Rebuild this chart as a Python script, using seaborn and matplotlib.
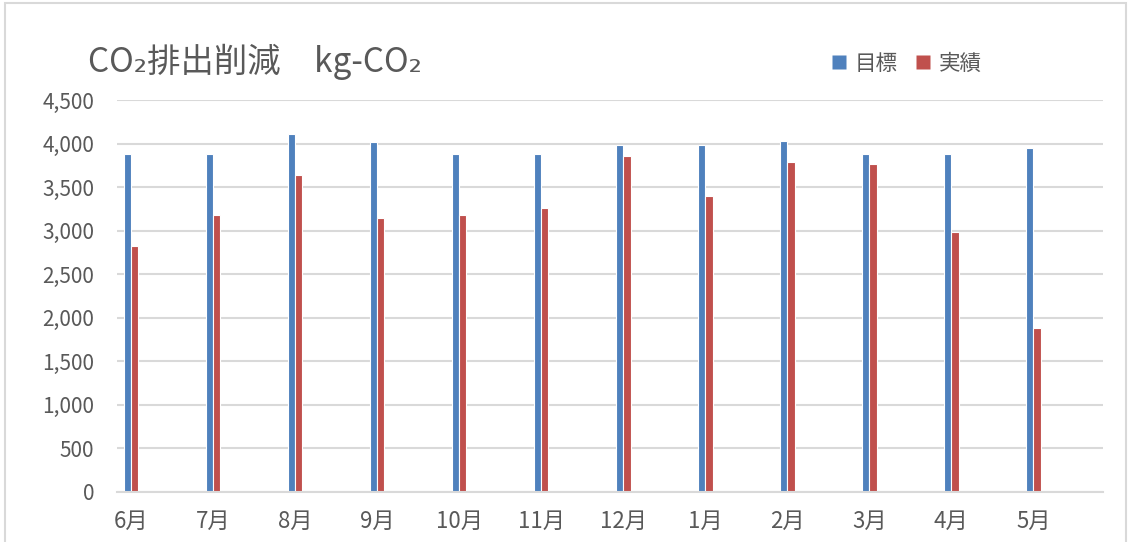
import matplotlib
matplotlib.use("Agg")
import matplotlib.pyplot as plt
from matplotlib.lines import Line2D
from matplotlib.patches import Rectangle
from matplotlib.ticker import FuncFormatter, MultipleLocator
import seaborn as sns
import pandas as pd

# Monthly CO2 reduction (kg-CO2): target vs. actual
months = ["6月", "7月", "8月", "9月", "10月", "11月", "12月", "1月", "2月", "3月", "4月", "5月"]
target = [3880, 3880, 4110, 4020, 3880, 3880, 3980, 3980, 4030, 3880, 3880, 3950]
actual = [2820, 3180, 3640, 3150, 3180, 3260, 3860, 3400, 3790, 3770, 2980, 1880]
series_names = ["目標", "実績"]
colors = ["#4F81BD", "#C0504D"]

df = pd.DataFrame({
    "month": months * 2,
    "value": target + actual,
    "series": [series_names[0]] * len(months) + [series_names[1]] * len(months),
})

sns.set_theme(style="white")
plt.rcParams["font.family"] = ["Noto Sans CJK JP", "DejaVu Sans"]

text_color = "#595959"
grid_color = "#D9D9D9"

fig = plt.figure(figsize=(11.31, 5.42), dpi=100)
ax = fig.add_axes([117 / 1131, 1 - 492 / 542, (1103 - 117) / 1131, (492 - 100) / 542])

sns.barplot(
    data=df, x="month", y="value", hue="series", order=months,
    hue_order=series_names, palette=colors, width=0.18, saturation=1,
    edgecolor="white", linewidth=0.8, ax=ax, legend=False,
)

ax.set_xlim(-0.17, 11.85)
ax.set_ylim(0, 4500)
ax.yaxis.set_major_locator(MultipleLocator(500))
ax.yaxis.set_major_formatter(FuncFormatter(lambda v, p: f"{int(v):,}"))
ax.grid(axis="y", color=grid_color, linewidth=1.5)
ax.set_axisbelow(True)
for side in ["top", "right", "left"]:
    ax.spines[side].set_visible(False)
ax.spines["bottom"].set_color(grid_color)
ax.spines["bottom"].set_linewidth(1.5)
ax.set_xlabel("")
ax.set_ylabel("")
ax.tick_params(axis="y", length=0, pad=16.5, labelsize=15, labelcolor=text_color)
ax.tick_params(axis="x", length=0, pad=13, labelsize=16, labelcolor=text_color)

# square legend keys
handles = [Line2D([], [], linestyle="none", marker="s", markersize=10.5,
                  markerfacecolor=c, markeredgecolor="none") for c in colors]
ax.legend(
    handles, series_names, loc="center left", bbox_to_anchor=(833 / 1131, 1 - 64 / 542),
    bbox_transform=fig.transFigure, ncol=2, frameon=False, fontsize=15.5,
    labelcolor=text_color, handlelength=0.6, handletextpad=0.42,
    columnspacing=0.88, borderpad=0, borderaxespad=0,
)

fig.text(88 / 1131, 1 - 62 / 542, "CO₂排出削減\u3000kg-CO₂", fontsize=24,
         color=text_color, va="center", ha="left",
         family=["Noto Sans CJK JP", "DejaVu Sans"])

# chart area border
fig.patches.append(Rectangle((5 / 1131, -0.05), 1121 / 1131, 1.05 - 3 / 542,
                             transform=fig.transFigure, fill=False,
                             edgecolor="#D9D9D9", linewidth=1.5))

fig.savefig("out.png", dpi=100, facecolor="white")
